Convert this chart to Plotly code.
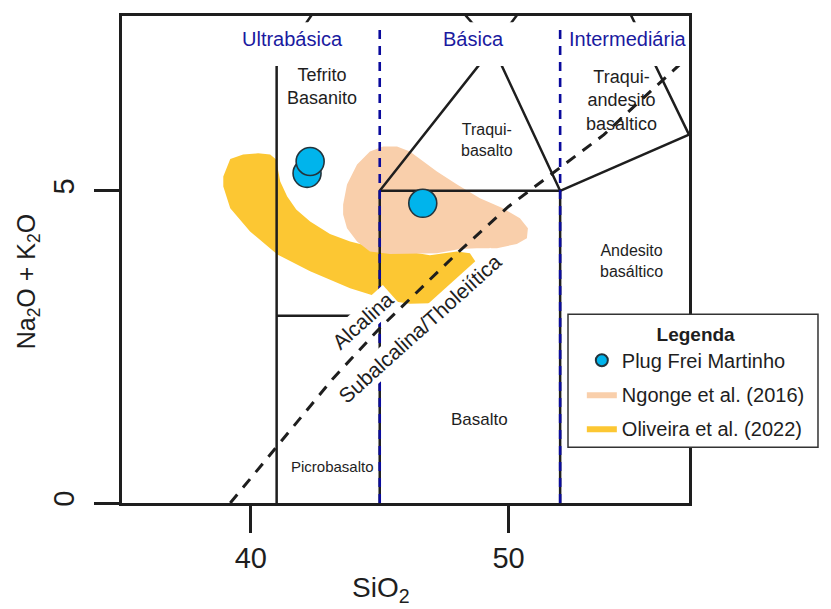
import plotly.graph_objects as go

# ---------------- data ----------------
# Plug Frei Martinho samples (SiO2, Na2O+K2O)
plug_sio2 = [42.18, 42.30, 46.67]
plug_alk = [5.28, 5.47, 4.80]

# Ngonge et al. (2016) field outline
ngonge_sio2 = [43.58, 43.73, 44.12, 44.62, 45.13, 45.67, 46.17, 46.68, 47.22, 48.00, 48.89, 49.78,
               50.44, 50.75, 50.71, 50.32, 49.55, 48.77, 48.11, 47.22, 46.29, 45.40, 44.62, 44.12,
               43.73, 43.58]
ngonge_alk = [4.78, 5.10, 5.42, 5.63, 5.71, 5.71, 5.63, 5.47, 5.31, 5.10, 4.88, 4.72,
              4.56, 4.40, 4.24, 4.15, 4.08, 4.08, 4.07, 4.00, 3.99, 3.99, 4.03, 4.19,
              4.40, 4.62]

# Oliveira et al. (2022) field outline (crescent)
oliveira_sio2 = [38.93, 39.20, 39.70, 40.28, 40.75, 40.98, 41.14, 41.41, 41.76, 42.30, 43.07, 43.85,
                 44.62, 45.79, 46.95, 47.99, 48.50, 48.77, 48.50, 47.84, 46.95, 46.17, 45.40, 43.85,
                 42.30, 41.03, 39.97, 39.20, 38.93]
oliveira_alk = [5.23, 5.51, 5.58, 5.60, 5.58, 5.50, 5.15, 4.91, 4.70, 4.51, 4.31, 4.19,
                4.11, 4.05, 3.97, 4.03, 4.00, 3.83, 3.60, 3.35, 3.20, 3.19, 3.24, 3.44,
                3.71, 3.98, 4.35, 4.72, 5.07]

# TAS (Le Bas et al.) field boundaries
tas_sio2 = [41, 41, 45, None, 41, 45, None, 45, 45, None, 45, 52, None, 45, 49.4, 52, None,
            52, 52, None, 52, 57, None, 49.4, 45, None, 49.4, 53, 57]
tas_alk = [0, 7, 9.4, None, 3, 3, None, 0, 5, None, 5, 5, None, 5, 7.3, 5, None,
           0, 5, None, 5, 5.9, None, 7.3, 9.4, None, 7.3, 9.3, 5.9]

# Irvine & Baragar (1971) alkaline / subalkaline divide
ib_sio2 = [39.2, 40, 43.2, 45, 48, 50, 53.7, 55, 60]
ib_alk = [0, 0.4, 2, 2.8, 4, 4.75, 5.9, 6.4, 8.3]

# silica group limits and names
group_limits = [45, 52]
group_names = ["Ultrabásica", "Básica", "Intermediária"]
group_centers = [41.6, 48.62, 54.63]

# field labels
field_labels = ["Tefrito<br>Basanito", "Traqui-<br>basalto", "Traqui-<br>andesito<br>basáltico",
                "Andesito<br>basáltico", "Basalto", "Picrobasalto"]
field_x = [42.76, 49.16, 54.39, 54.78, 48.89, 43.15]
field_y = [6.67, 5.81, 6.45, 3.88, 1.33, 0.58]
field_size = [18, 16, 18, 16, 17, 15]

x_ticks = [40, 50]
y_ticks = [0, 5]

FONT = "Liberation Sans, Arial, sans-serif"
INK = "#1e1e1e"
BLUE = "#1a1aa0"

fig = go.Figure()

fig.add_trace(go.Scatter(x=oliveira_sio2, y=oliveira_alk, mode="lines", fill="toself",
                         fillcolor="#fcc733", line=dict(width=0, color="#fcc733"),
                         name="Oliveira et al. (2022)", legendrank=3, legendgroup="c",
                         hoverinfo="skip"))
fig.add_trace(go.Scatter(x=ngonge_sio2, y=ngonge_alk, mode="lines", fill="toself",
                         fillcolor="#f9cfab", line=dict(width=0, color="#f9cfab"),
                         name="Ngonge et al. (2016)", legendrank=2, legendgroup="b",
                         hoverinfo="skip"))
fig.add_trace(go.Scatter(x=tas_sio2, y=tas_alk, mode="lines", line=dict(color=INK, width=2.5),
                         showlegend=False, hoverinfo="skip"))
fig.add_trace(go.Scatter(x=ib_sio2, y=ib_alk, mode="lines",
                         line=dict(color=INK, width=3, dash="11px,9px"),
                         showlegend=False, hoverinfo="skip"))
fig.add_trace(go.Scatter(x=plug_sio2, y=plug_alk, mode="markers",
                         marker=dict(size=28, color="#00b4ec", line=dict(color="#23343c", width=1.6)),
                         name="Plug Frei Martinho", legendrank=1, legendgroup="a"))

# white band under the group titles
fig.add_shape(type="rect", xref="x", yref="y", x0=35, x1=57, y0=7.0, y1=7.7,
              fillcolor="white", line=dict(width=0), layer="above")
for gx in group_limits:
    fig.add_shape(type="line", xref="x", yref="y", x0=gx, x1=gx, y0=0, y1=7.68,
                  line=dict(color="#0a0a9c", width=2.6, dash="9px,7px"), layer="above")

# legend frame
fig.add_shape(type="rect", xref="paper", yref="paper", x0=0.7866, x1=1.2275, y0=0.1143, y1=0.3878,
              fillcolor="white", line=dict(color="#333333", width=1.5), layer="above")

for name, cx in zip(group_names, group_centers):
    fig.add_annotation(x=cx, y=7.43, text=name, showarrow=False,
                       font=dict(family=FONT, size=20, color=BLUE))

for t, fx, fy, fs in zip(field_labels, field_x, field_y, field_size):
    fig.add_annotation(x=fx, y=fy, text=t, showarrow=False,
                       font=dict(family=FONT, size=fs, color=INK))

fig.add_annotation(x=44.35, y=2.92, text="Alcalina", textangle=-42, showarrow=False,
                   bgcolor="white", borderpad=1, font=dict(family=FONT, size=21, color=INK))
fig.add_annotation(x=46.57, y=2.79, text="Subalcalina/Tholeiítica", textangle=-42, showarrow=False,
                   bgcolor="white", borderpad=1, font=dict(family=FONT, size=21, color=INK))

# axis titles
fig.add_annotation(x=45.05, xref="x", y=-0.138, yref="paper", text="SiO<sub>2</sub>",
                   showarrow=False, yanchor="top", font=dict(family=FONT, size=28, color=INK))
fig.add_annotation(x=-0.1658, xref="paper", y=3.55, yref="y",
                   text="Na<sub>2</sub>O + K<sub>2</sub>O", textangle=-90,
                   xanchor="center", yanchor="middle", showarrow=False,
                   font=dict(family=FONT, size=25, color=INK))

fig.update_xaxes(range=[35, 57], tickvals=x_ticks, ticks="outside", ticklen=27, tickwidth=2.5,
                 tickcolor=INK, showgrid=False, zeroline=False, showline=True, linewidth=3,
                 linecolor=INK, mirror=True, tickfont=dict(family=FONT, size=29, color=INK))
fig.update_yaxes(range=[0, 7.8], tickvals=y_ticks, ticks="outside", ticklen=25, tickwidth=2.5,
                 tickcolor=INK, showgrid=False, zeroline=False, showline=True, linewidth=3,
                 linecolor=INK, mirror=True, tickangle=-90, ticklabelstandoff=8,
                 tickfont=dict(family=FONT, size=29, color=INK))

fig.update_layout(
    width=831, height=609,
    margin=dict(l=114, r=150, t=5, b=114),
    plot_bgcolor="white", paper_bgcolor="white",
    font=dict(family=FONT, color=INK),
    legend=dict(x=0.811, y=0.384, xanchor="left", yanchor="top",
                bgcolor="rgba(0,0,0,0)", borderwidth=0,
                font=dict(family=FONT, size=20, color=INK),
                title=dict(text="<b>Legenda</b>", side="top center",
                           font=dict(family=FONT, size=19, color=INK)),
                traceorder="grouped", tracegroupgap=5, itemsizing="constant"),
    showlegend=True,
)

fig.write_html("out.html")
